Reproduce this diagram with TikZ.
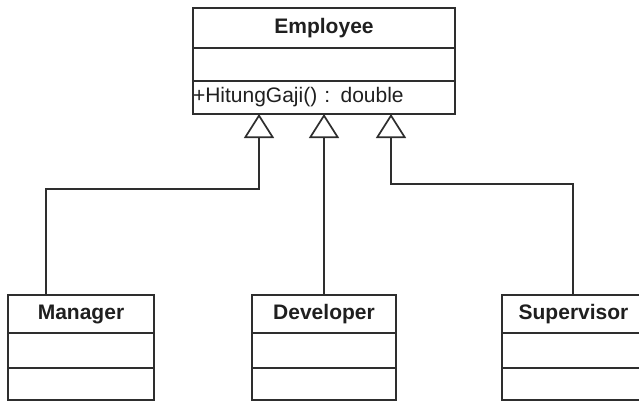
\documentclass[tikz,border=0pt]{standalone}
\usepackage{fontspec}
\setmainfont{Liberation Sans}
\usetikzlibrary{arrows.meta}

\tikzset{
  umlline/.style={draw=black!82, line width=1.7pt},
  compart/.style={umlline, rectangle, inner sep=0pt, outer sep=0pt,
    anchor=north west, text=black!88,
    font=\fontsize{21}{24}\selectfont},
  header/.style={compart, font=\fontsize{21}{24}\selectfont\bfseries},
  isa/.style={umlline, line join=miter,
    -{Triangle[open, length=24pt, width=30pt, fill=white]}},
}

\begin{document}
\begin{tikzpicture}[x=1pt, y=-1pt]
  \useasboundingbox (0,0) rectangle (639,402);
  \clip (0,0) rectangle (639,402);

  % superclass
  \node[header, minimum width=262pt, minimum height=40pt] (empH) at (193,8) {Employee};
  \node[compart, minimum width=262pt, minimum height=33pt] (empA) at (193,48) {};
  \node[compart, minimum width=262pt, minimum height=33pt, text width=262pt, align=left] (empO) at (193,81) {+HitungGaji() : double};

  % subclasses
  \node[header, minimum width=146pt, minimum height=38pt] (mgrH) at (8,295) {Manager};
  \node[compart, minimum width=146pt, minimum height=35pt] (mgrA) at (8,333) {};
  \node[compart, minimum width=146pt, minimum height=32pt] (mgrO) at (8,368) {};

  \node[header, minimum width=144pt, minimum height=38pt] (devH) at (252,295) {Developer};
  \node[compart, minimum width=144pt, minimum height=35pt] (devA) at (252,333) {};
  \node[compart, minimum width=144pt, minimum height=32pt] (devO) at (252,368) {};

  \node[header, minimum width=143pt, minimum height=38pt] (supH) at (502,295) {Supervisor};
  \node[compart, minimum width=143pt, minimum height=35pt] (supA) at (502,333) {};
  \node[compart, minimum width=143pt, minimum height=32pt] (supO) at (502,368) {};

  % attachment points on the superclass
  \coordinate (tipM) at (259,114);
  \coordinate (tipD) at (324,114);
  \coordinate (tipS) at (391,114);

  % generalisation connectors
  \coordinate (legM) at (46,295);
  \coordinate (legS) at (573,295);
  \draw[isa] (legM) -- (46,189) -| (tipM);
  \draw[isa] (legS) -- (573,184) -| (tipS);
  \draw[isa] (tipD |- devH.north) -- (tipD);
\end{tikzpicture}
\end{document}
